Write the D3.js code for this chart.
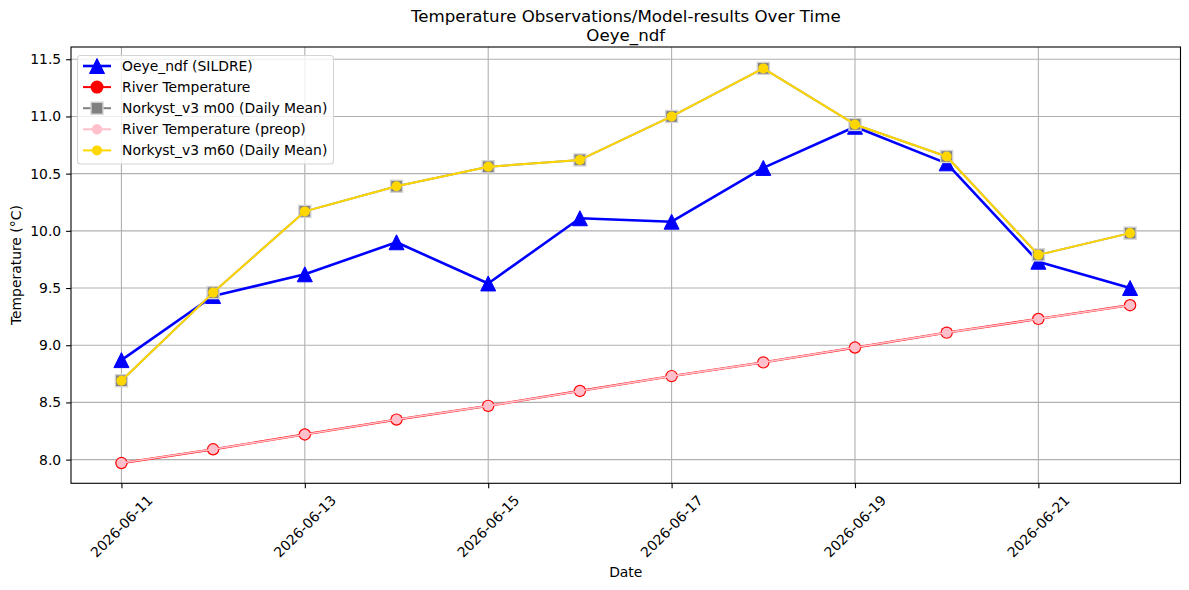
<!DOCTYPE html>
<html lang="en">
<head>
<meta charset="UTF-8">
<title>Temperature Observations</title>
<script src="https://cdn.jsdelivr.net/npm/d3@7"></script>
<style>
  body { margin: 0; background: #fff; font-family: "DejaVu Sans", sans-serif; }
  svg text { font-family: "DejaVu Sans", sans-serif; fill: #000; }
</style>
</head>
<body>
<svg id="chart" width="1189" height="590"></svg>
<script>
// data
const dates = ["2026-06-11","2026-06-12","2026-06-13","2026-06-14","2026-06-15","2026-06-16",
               "2026-06-17","2026-06-18","2026-06-19","2026-06-20","2026-06-21","2026-06-22"];
const sildre = [8.87, 9.43, 9.62, 9.90, 9.54, 10.11, 10.08, 10.55, 10.91, 10.59, 9.73, 9.50];
const riverTemp = [7.97, 8.09, 8.22, 8.35, 8.47, 8.60, 8.73, 8.85, 8.98, 9.11, 9.23, 9.35];
const riverPreop = [7.97, 8.09, 8.22, 8.35, 8.47, 8.60, 8.73, 8.85, 8.98, 9.11, 9.23, 9.35];
const m00 = [8.69, 9.46, 10.17, 10.39, 10.56, 10.62, 11.00, 11.42, 10.93, 10.65, 9.79, 9.98];
const m60 = [8.69, 9.46, 10.17, 10.39, 10.56, 10.62, 11.00, 11.42, 10.93, 10.65, 9.79, 9.98];
const xTicks = ["2026-06-11","2026-06-13","2026-06-15","2026-06-17","2026-06-19","2026-06-21"];
const yTicks = [8.0, 8.5, 9.0, 9.5, 10.0, 10.5, 11.0, 11.5];
const legendLabels = ["Oeye_ndf (SILDRE)", "River Temperature", "Norkyst_v3 m00 (Daily Mean)",
                      "River Temperature (preop)", "Norkyst_v3 m60 (Daily Mean)"];

const parse = d3.utcParse("%Y-%m-%d");
const L = 71, R = 1180.5, T = 47, B = 483.3;

const svg = d3.select("#chart");
const t0 = parse(dates[0]).getTime(), t1 = parse(dates[dates.length - 1]).getTime();
const pad = (t1 - t0) * 0.05;
const x = d3.scaleUtc().domain([new Date(t0 - pad), new Date(t1 + pad)]).range([L, R]);
const y = d3.scaleLinear().domain([7.793, 11.607]).range([B, T]);

// grid
const grid = svg.append("g").attr("stroke", "#b0b0b0").attr("stroke-width", 1.1);
xTicks.forEach(d => {
  const xx = x(parse(d));
  grid.append("line").attr("x1", xx).attr("x2", xx).attr("y1", T).attr("y2", B);
});
yTicks.forEach(v => {
  grid.append("line").attr("x1", L).attr("x2", R).attr("y1", y(v)).attr("y2", y(v));
});

// axes
const xAxis = svg.append("g").attr("transform", `translate(0,${B})`)
  .call(d3.axisBottom(x).tickValues(xTicks.map(parse)).tickSize(4.9).tickFormat(""));
const yAxis = svg.append("g").attr("transform", `translate(${L},0)`)
  .call(d3.axisLeft(y).tickValues(yTicks).tickSize(4.9).tickFormat(""));
[xAxis, yAxis].forEach(a => {
  a.select(".domain").remove();
  a.selectAll("line").attr("stroke", "#000").attr("stroke-width", 1.1);
});

xTicks.forEach(d => {
  svg.append("text")
    .attr("transform", `translate(${x(parse(d))},${B + 43}) rotate(-45)`)
    .attr("text-anchor", "middle").attr("dominant-baseline", "central")
    .attr("font-size", 13.9).text(d);
});
yTicks.forEach(v => {
  svg.append("text").attr("x", L - 9.8).attr("y", y(v))
    .attr("text-anchor", "end").attr("dominant-baseline", "central")
    .attr("font-size", 13.9).text(v.toFixed(1));
});

// series
const pts = vals => vals.map((v, i) => [x(parse(dates[i])), y(v)]);
const line = d3.line();
const tri = s => `M0,${-s/2}L${-s/2},${s/2}L${s/2},${s/2}Z`;

function drawLine(vals, color, w) {
  svg.append("path").attr("d", line(pts(vals))).attr("fill", "none")
    .attr("stroke", color).attr("stroke-width", w).attr("stroke-linejoin", "round");
}

// blue observations
drawLine(sildre, "blue", 2.6);
pts(sildre).forEach(p => svg.append("path").attr("d", tri(15))
  .attr("transform", `translate(${p[0]},${p[1]})`).attr("fill", "blue")
  .attr("stroke", "blue").attr("stroke-width", 1));

// red river temperature
drawLine(riverTemp, "red", 2.3);
pts(riverTemp).forEach(p => svg.append("circle").attr("cx", p[0]).attr("cy", p[1])
  .attr("r", 6.2).attr("fill", "red"));

// gray m00
drawLine(m00, "gray", 2);
pts(m00).forEach(p => svg.append("rect").attr("x", p[0] - 6).attr("y", p[1] - 6)
  .attr("width", 12).attr("height", 12).attr("fill", "gray")
  .attr("stroke", "lightgray").attr("stroke-width", 1.4));

// pink preop
drawLine(riverPreop, "pink", 1.6);
pts(riverPreop).forEach(p => svg.append("circle").attr("cx", p[0]).attr("cy", p[1])
  .attr("r", 5).attr("fill", "pink"));

// gold m60
drawLine(m60, "gold", 2);
pts(m60).forEach(p => svg.append("circle").attr("cx", p[0]).attr("cy", p[1])
  .attr("r", 5).attr("fill", "gold"));

// frame
svg.append("rect").attr("x", L).attr("y", T).attr("width", R - L).attr("height", B - T)
  .attr("fill", "none").attr("stroke", "#000").attr("stroke-width", 1.1);

// titles
svg.append("text").attr("x", (L + R) / 2).attr("y", 22).attr("text-anchor", "middle")
  .attr("font-size", 16.67).text("Temperature Observations/Model-results Over Time");
svg.append("text").attr("x", (L + R) / 2).attr("y", 40.5).attr("text-anchor", "middle")
  .attr("font-size", 16.67).text("Oeye_ndf");
svg.append("text").attr("x", (L + R) / 2).attr("y", 577).attr("text-anchor", "middle")
  .attr("font-size", 13.9).text("Date");
svg.append("text").attr("transform", `translate(21,${(T + B) / 2}) rotate(-90)`)
  .attr("text-anchor", "middle").attr("font-size", 13.9).text("Temperature (°C)");

// legend
const lg = svg.append("g");
lg.append("rect").attr("x", 77.5).attr("y", 55.5).attr("width", 256).attr("height", 108.5)
  .attr("rx", 3).attr("fill", "#fff").attr("fill-opacity", 0.8)
  .attr("stroke", "#d5d5d5").attr("stroke-width", 1.1);
const rowY = i => 66 + i * 21.1;
const hx0 = 83, hx1 = 111, hm = 97;
legendLabels.forEach((lab, i) => {
  const yy = rowY(i);
  const col = ["blue", "red", "gray", "pink", "gold"][i];
  const w = [2.6, 2, 2, 2, 2][i];
  lg.append("line").attr("x1", hx0).attr("x2", hx1).attr("y1", yy).attr("y2", yy)
    .attr("stroke", col).attr("stroke-width", w);
  if (i === 0) lg.append("path").attr("d", tri(15)).attr("transform", `translate(${hm},${yy})`)
    .attr("fill", "blue").attr("stroke", "blue");
  if (i === 1) lg.append("circle").attr("cx", hm).attr("cy", yy).attr("r", 6.5).attr("fill", "red");
  if (i === 2) lg.append("rect").attr("x", hm - 6).attr("y", yy - 6).attr("width", 12).attr("height", 12)
    .attr("fill", "gray").attr("stroke", "lightgray").attr("stroke-width", 1.4);
  if (i === 3) lg.append("circle").attr("cx", hm).attr("cy", yy).attr("r", 5.2).attr("fill", "pink");
  if (i === 4) lg.append("circle").attr("cx", hm).attr("cy", yy).attr("r", 5).attr("fill", "gold");
  lg.append("text").attr("x", 122).attr("y", yy).attr("dominant-baseline", "central")
    .attr("font-size", 13.9).text(lab);
});
</script>
</body>
</html>
